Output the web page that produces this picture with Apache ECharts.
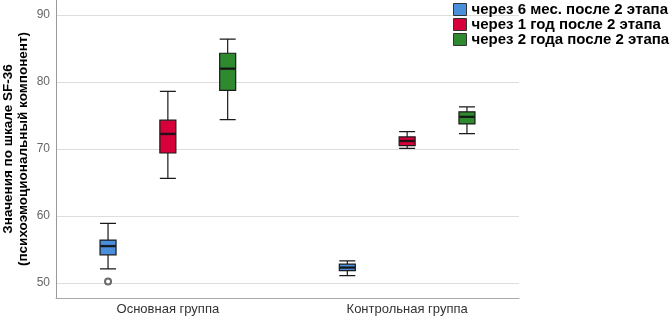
<!DOCTYPE html>
<html>
<head>
<meta charset="utf-8">
<script src="https://cdn.jsdelivr.net/npm/echarts@6/dist/echarts.min.js"></script>
<style>
  html, body { margin: 0; padding: 0; background: #fff; }
  #main { width: 671px; height: 316px; }
</style>
</head>
<body>
<div id="main"></div>
<script>
// группы и серии
var groups = ['Основная группа', 'Контрольная группа'];
var seriesNames = ['через 6 мес. после 2 этапа', 'через 1 год после 2 этапа', 'через 2 года после 2 этапа'];
var colors = ['#4a8fdc', '#d6003b', '#2f8a2f'];

// [min, Q1, median, Q3, max] для каждой группы
var months6 = [[52.1, 54.2, 55.5, 56.4, 58.9], [51.1, 51.85, 52.3, 52.8, 53.3]];
var year1 = [[65.6, 69.4, 72.25, 74.3, 78.6], [70.1, 70.5, 71.2, 71.8, 72.6]];
var years2 = [[74.4, 78.75, 82.0, 84.3, 86.4], [72.3, 73.75, 74.8, 75.55, 76.3]];
// выброс: [группа, серия, значение]
var outliers = [[0, 0, 50.2]];

var yTicks = [50, 60, 70, 80, 90];

// позиция ящика на оси x: группа * 4 + номер серии
function slot(g, s) { return g * 4 + s; }

var chart = echarts.init(document.getElementById('main'));
var boxData = [months6, year1, years2];
var xMin = -0.87, xMax = 6.87;

var xAxes = [0, 1, 2].map(function (i) {
  return {
    type: 'value', min: xMin, max: xMax, show: i === 0,
    splitLine: { show: false },
    axisLine: { show: true, onZero: false, lineStyle: { color: '#aaa' } },
    axisTick: { show: false },
    axisLabel: {
      customValues: [slot(0, 1), slot(1, 1)],
      color: '#333', fontSize: 13, margin: 5,
      formatter: function (v) { return groups[Math.round((v - 1) / 4)]; }
    }
  };
});

var series = boxData.map(function (d, i) {
  return {
    name: seriesNames[i],
    type: 'boxplot',
    xAxisIndex: i,
    data: d.map(function (b, g) { return [slot(g, i)].concat(b); }),
    boxWidth: [16, 16],
    itemStyle: { color: colors[i], borderColor: '#1a1a1a', borderWidth: 1.2 },
    emphasis: { disabled: true },
    silent: true
  };
});
// медианы толще
series.push({
  type: 'scatter',
  data: [].concat.apply([], boxData.map(function (d, i) {
    return d.map(function (b, g) { return [slot(g, i), b[2]]; });
  })),
  symbol: 'rect',
  symbolSize: [15, 2.4],
  itemStyle: { color: '#111' },
  silent: true
});
series.push({
  type: 'scatter',
  data: outliers.map(function (o) { return [slot(o[0], o[1]), o[2]]; }),
  symbol: 'emptyCircle',
  symbolSize: 6,
  itemStyle: { color: '#444', borderWidth: 1.2 },
  silent: true
});

chart.setOption({
  animation: false,
  textStyle: { fontFamily: 'Liberation Sans, Arial, sans-serif' },
  legend: {
    data: seriesNames.map(function (n, i) {
      return { name: n, itemStyle: { color: colors[i], borderColor: '#333', borderWidth: 1 } };
    }),
    orient: 'vertical',
    left: 453,
    top: 2,
    padding: 0,
    itemWidth: 13,
    itemHeight: 12,
    itemGap: 0,
    icon: 'rect',
    selectedMode: false,
    textStyle: { fontSize: 15, fontWeight: 'bold', color: '#000', lineHeight: 14.5, padding: [0, 0, 0, 0] }
  },
  grid: { left: 56, right: 152, top: 0, bottom: 18, outerBoundsMode: 'none' },
  xAxis: xAxes,
  yAxis: {
    type: 'value',
    min: 47.75,
    max: 92.25,
    name: 'Значения по шкале SF-36\n(психоэмоциональный компонент)',
    nameLocation: 'middle',
    nameGap: 25,
    nameMoveOverlap: false,
    nameTextStyle: { fontWeight: 'bold', fontSize: 13.5, color: '#000', lineHeight: 15 },
    axisLine: { show: true, onZero: false, lineStyle: { color: '#999' } },
    axisTick: { show: false, customValues: yTicks },
    axisLabel: { customValues: yTicks, color: '#666', fontSize: 12, margin: 6 },
    splitLine: { lineStyle: { color: '#ddd' } }
  },
  series: series
});
</script>
</body>
</html>
